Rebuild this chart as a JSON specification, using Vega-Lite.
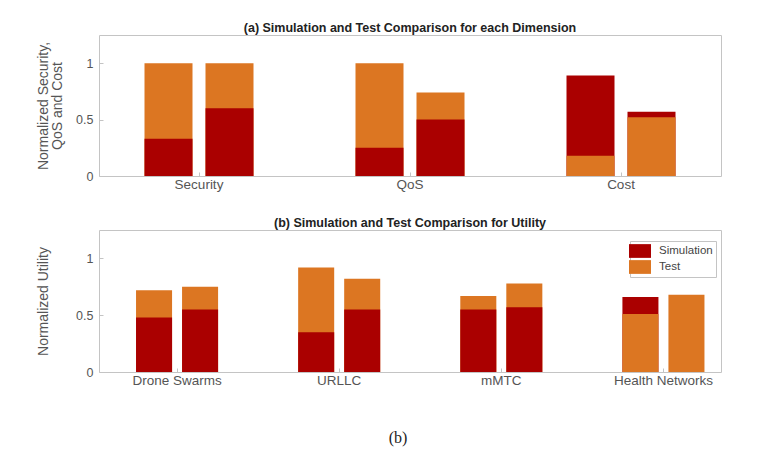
{
  "$schema": "https://vega.github.io/schema/vega-lite/v6.json",
  "background": "white",
  "padding": {"left": 36, "top": 21, "right": 10, "bottom": 10},
  "datasets": {
    "top": [
      {"category": "Security", "bar": "1", "series": "Simulation", "value": 0.33},
      {"category": "Security", "bar": "1", "series": "Test", "value": 1.0},
      {"category": "Security", "bar": "2", "series": "Simulation", "value": 0.6},
      {"category": "Security", "bar": "2", "series": "Test", "value": 1.0},
      {"category": "QoS", "bar": "1", "series": "Simulation", "value": 0.25},
      {"category": "QoS", "bar": "1", "series": "Test", "value": 1.0},
      {"category": "QoS", "bar": "2", "series": "Simulation", "value": 0.5},
      {"category": "QoS", "bar": "2", "series": "Test", "value": 0.74},
      {"category": "Cost", "bar": "1", "series": "Simulation", "value": 0.89},
      {"category": "Cost", "bar": "1", "series": "Test", "value": 0.18},
      {"category": "Cost", "bar": "2", "series": "Simulation", "value": 0.57},
      {"category": "Cost", "bar": "2", "series": "Test", "value": 0.52}
    ],
    "bottom": [
      {"category": "Drone Swarms", "bar": "1", "series": "Simulation", "value": 0.48},
      {"category": "Drone Swarms", "bar": "1", "series": "Test", "value": 0.72},
      {"category": "Drone Swarms", "bar": "2", "series": "Simulation", "value": 0.55},
      {"category": "Drone Swarms", "bar": "2", "series": "Test", "value": 0.75},
      {"category": "URLLC", "bar": "1", "series": "Simulation", "value": 0.35},
      {"category": "URLLC", "bar": "1", "series": "Test", "value": 0.92},
      {"category": "URLLC", "bar": "2", "series": "Simulation", "value": 0.55},
      {"category": "URLLC", "bar": "2", "series": "Test", "value": 0.82},
      {"category": "mMTC", "bar": "1", "series": "Simulation", "value": 0.55},
      {"category": "mMTC", "bar": "1", "series": "Test", "value": 0.67},
      {"category": "mMTC", "bar": "2", "series": "Simulation", "value": 0.57},
      {"category": "mMTC", "bar": "2", "series": "Test", "value": 0.78},
      {"category": "Health Networks", "bar": "1", "series": "Simulation", "value": 0.66},
      {"category": "Health Networks", "bar": "1", "series": "Test", "value": 0.51},
      {"category": "Health Networks", "bar": "2", "series": "Simulation", "value": 0.0},
      {"category": "Health Networks", "bar": "2", "series": "Test", "value": 0.68}
    ]
  },
  "config": {
    "view": {"stroke": "#c4c4c4", "strokeWidth": 1},
    "axis": {
      "domainColor": "#c4c4c4",
      "tickColor": "#c4c4c4",
      "labelColor": "#555555",
      "titleColor": "#555555",
      "labelFont": "Liberation Sans",
      "titleFont": "Liberation Sans",
      "labelFontSize": 12.5,
      "titleFontSize": 14,
      "titleFontWeight": "normal",
      "titleLineHeight": 14,
      "grid": false
    },
    "axisX": {"labelFontSize": 13.5},
    "title": {"font": "Liberation Sans", "fontSize": 12.5, "fontWeight": "bold", "color": "#222222"},
    "legend": {"labelFont": "Liberation Sans", "labelFontSize": 11.5, "labelColor": "#444444"}
  },
  "spacing": 25,
  "resolve": {"scale": {"xOffset": "independent"}, "legend": {"color": "independent"}},
  "title": {"text": "(b)", "orient": "bottom", "anchor": "middle", "font": "Liberation Serif", "fontSize": 16, "fontWeight": "normal", "color": "#222222", "offset": 43, "dx": 6},
  "vconcat": [
    {
      "width": 622,
      "height": 141,
      "title": {"text": "(a) Simulation and Test Comparison for each Dimension", "offset": 1},
      "data": {"name": "top"},
      "mark": {"type": "bar"},
      "encoding": {
        "x": {"field": "category", "type": "nominal", "sort": ["Security", "QoS", "Cost"],
              "scale": {"paddingInner": 0, "paddingOuter": 0, "range": [-5.5, 627.5]},
              "axis": {"title": null, "labelAngle": 0, "tickSize": -4, "labelPadding": 5, "domain": false}},
        "xOffset": {"field": "bar", "type": "nominal", "scale": {"paddingInner": 0.213, "paddingOuter": 0.836}},
        "y": {"field": "value", "type": "quantitative", "stack": null,
              "scale": {"domain": [0, 1.25], "nice": false},
              "axis": {"values": [0, 0.5, 1], "labelExpr": "datum.value", "tickSize": -4, "labelPadding": 10, "domain": false,
                       "title": ["Normalized Security,", "QoS and Cost"], "titlePadding": 11}},
        "color": {"field": "series", "type": "nominal",
                  "scale": {"domain": ["Simulation", "Test"], "range": ["#aa0000", "#dc7622"]},
                  "legend": null},
        "order": {"field": "value", "sort": "descending"}
      }
    },
    {
      "width": 622,
      "height": 142,
      "title": {"text": "(b) Simulation and Test Comparison for Utility", "offset": 1},
      "data": {"name": "bottom"},
      "mark": {"type": "bar"},
      "encoding": {
        "x": {"field": "category", "type": "nominal", "sort": ["Drone Swarms", "URLLC", "mMTC", "Health Networks"],
              "scale": {"paddingInner": 0, "paddingOuter": 0, "range": [-3, 645.5]},
              "axis": {"title": null, "labelAngle": 0, "tickSize": -4, "labelPadding": 5, "domain": false}},
        "xOffset": {"field": "bar", "type": "nominal", "scale": {"paddingInner": 0.217, "paddingOuter": 0.87}},
        "y": {"field": "value", "type": "quantitative", "stack": null,
              "scale": {"domain": [0, 1.25], "nice": false},
              "axis": {"values": [0, 0.5, 1], "labelExpr": "datum.value", "tickSize": -4, "labelPadding": 10, "domain": false,
                       "title": "Normalized Utility", "titlePadding": 25}},
        "color": {"field": "series", "type": "nominal",
                  "scale": {"domain": ["Simulation", "Test"], "range": ["#aa0000", "#dc7622"]},
                  "legend": {"title": null, "orient": "none", "legendX": 531, "legendY": 11,
                             "fillColor": "white", "strokeColor": "#c4c4c4", "padding": 3,
                             "symbolType": "M-1.6,-1H1.6V1H-1.6Z", "symbolSize": 189, "symbolStrokeWidth": 0,
                             "symbolOpacity": 1, "labelOffset": 12, "rowPadding": 2}},
        "order": {"field": "value", "sort": "descending"}
      }
    }
  ]
}
